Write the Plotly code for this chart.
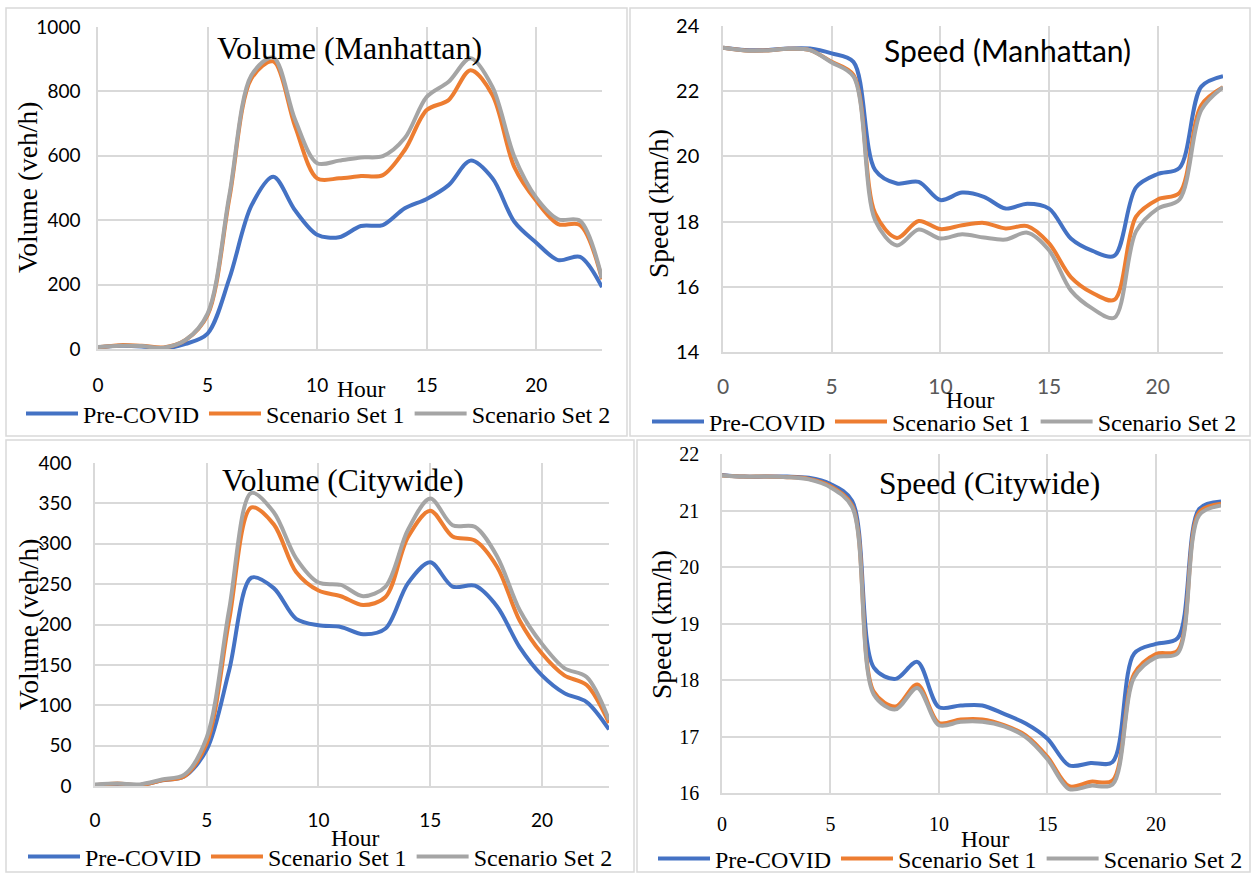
import plotly.graph_objects as go

hours = list(range(24))
x_ticks = [0, 5, 10, 15, 20]
series_names = ["Pre-COVID", "Scenario Set 1", "Scenario Set 2"]
series_colors = ["#4472C4", "#ED7D31", "#A5A5A5"]

# Volume (Manhattan)
vm_pre = [5, 10, 8, 2, 16, 48, 220, 445, 535, 430, 355, 347, 382, 385, 437, 466, 509, 585, 530, 395, 330, 276, 286, 192]
vm_s1 = [5, 12, 10, 5, 28, 105, 470, 840, 893, 690, 530, 530, 537, 540, 618, 742, 773, 866, 789, 565, 460, 388, 385, 217]
vm_s2 = [6, 10, 9, 4, 28, 110, 480, 850, 905, 711, 577, 585, 595, 599, 655, 783, 830, 903, 814, 597, 470, 403, 398, 220]

# Speed (Manhattan)
sm_pre = [23.33, 23.26, 23.26, 23.31, 23.31, 23.16, 22.9, 19.58, 19.17, 19.22, 18.66, 18.89, 18.76, 18.4, 18.55, 18.4, 17.48, 17.1, 16.95, 19.05, 19.46, 19.65, 22.14, 22.46]
sm_s1 = [23.33, 23.25, 23.25, 23.3, 23.26, 22.9, 22.5, 18.25, 17.5, 18.02, 17.77, 17.89, 17.96, 17.79, 17.86, 17.33, 16.3, 15.81, 15.6, 18.15, 18.68, 18.88, 21.57, 22.12]
sm_s2 = [23.33, 23.25, 23.25, 23.3, 23.26, 22.88, 22.45, 18.04, 17.27, 17.76, 17.48, 17.61, 17.51, 17.45, 17.66, 17.12, 15.89, 15.33, 15.05, 17.7, 18.4, 18.68, 21.42, 22.12]

# Volume (Citywide)
vc_pre = [1, 2, 1, 7, 12, 45, 143, 258, 245, 207, 199, 197, 188, 195, 251, 277, 247, 248, 222, 172, 137, 115, 104, 70]
vc_s1 = [1, 3, 1, 7, 12, 53, 205, 345, 324, 265, 242, 235, 224, 234, 308, 341, 309, 304, 271, 205, 164, 137, 125, 78]
vc_s2 = [2, 3, 2, 8, 14, 60, 218, 363, 339, 282, 252, 249, 235, 247, 317, 356, 323, 321, 284, 218, 176, 146, 135, 82]

# Speed (Citywide)
sc_pre = [21.63, 21.6, 21.6, 21.6, 21.58, 21.47, 21.17, 18.22, 18.02, 18.32, 17.52, 17.55, 17.55, 17.4, 17.23, 16.96, 16.49, 16.53, 16.55, 18.47, 18.64, 18.74, 21.03, 21.16]
sc_s1 = [21.62, 21.6, 21.6, 21.59, 21.56, 21.43, 21.09, 17.79, 17.53, 17.92, 17.24, 17.3, 17.3, 17.2, 17.02, 16.64, 16.12, 16.2, 16.22, 18.11, 18.46, 18.52, 20.97, 21.12]
sc_s2 = [21.62, 21.6, 21.6, 21.59, 21.55, 21.41, 21.06, 17.74, 17.48, 17.86, 17.2, 17.26, 17.26, 17.18, 16.99, 16.6, 16.07, 16.13, 16.15, 18.05, 18.4, 18.47, 20.92, 21.09]

W, H = 1252, 874
SERIF = "Liberation Serif, Times New Roman, serif"
SANS = "Lato, Carlito, Calibri, sans-serif"
GRID = "#d9d9d9"

def fx(px):
    return px / W

def fy(py):
    return 1 - py / H

panels = [
    dict(data=[vm_pre, vm_s1, vm_s2], title="Volume (Manhattan)", tfont=SERIF, tsize=32, tpos=(349, 48),
         ytitle="Volume (veh/h)", ytpos=(28, 188), hourpos=(361, 389),
         box=(98, 602, 27, 349), yr=[0, 1000], dtick=200,
         tickfont=SANS, ytsize=19, xtsize=19, xtcolor="#000", ylen=12, xlen=18, leg=(21, 414)),
    dict(data=[sm_pre, sm_s1, sm_s2], title="Speed (Manhattan)", tfont=SANS, tsize=30, tpos=(1007, 50),
         ytitle="Speed (km/h)", ytpos=(658, 204), hourpos=(970, 400),
         box=(723, 1223, 26, 352), yr=[14, 24], dtick=2,
         tickfont=SANS, ytsize=20, xtsize=21, xtcolor="#595959", ylen=18, xlen=15, leg=(647, 422)),
    dict(data=[vc_pre, vc_s1, vc_s2], title="Volume (Citywide)", tfont=SERIF, tsize=31.5, tpos=(343, 481),
         ytitle="Volume (veh/h)", ytpos=(28, 625), hourpos=(355, 838),
         box=(95, 609, 463, 786), yr=[0, 400], dtick=50,
         tickfont=SANS, ytsize=19, xtsize=19, xtcolor="#000", ylen=18, xlen=16, leg=(23, 857)),
    dict(data=[sc_pre, sc_s1, sc_s2], title="Speed (Citywide)", tfont=SERIF, tsize=31.5, tpos=(989, 483),
         ytitle="Speed (km/h)", ytpos=(661, 624), hourpos=(985, 839),
         box=(722, 1221, 454, 793), yr=[16, 22], dtick=1,
         tickfont=SERIF, ytsize=20, xtsize=20, xtcolor="#000", ylen=17, xlen=12, leg=(653, 859)),
]

fig = go.Figure()
layout = dict(width=W, height=H, autosize=False,
              margin=dict(l=0, r=0, t=0, b=0, pad=0, autoexpand=False),
              paper_bgcolor="white", plot_bgcolor="white", showlegend=True)
annotations = []
shapes = []

for i, p in enumerate(panels):
    n = i + 1
    xa = "x" if n == 1 else f"x{n}"
    ya = "y" if n == 1 else f"y{n}"
    lg = "legend" if n == 1 else f"legend{n}"
    for vals, name, col in zip(p["data"], series_names, series_colors):
        fig.add_trace(go.Scatter(x=hours, y=vals, name=name, mode="lines",
                                 line=dict(color=col, width=4, shape="spline", smoothing=0.9),
                                 xaxis=xa, yaxis=ya, legend=lg, hoverinfo="skip"))
    x0, x1, y0, y1 = p["box"]
    layout["xaxis" if n == 1 else f"xaxis{n}"] = dict(
        domain=[fx(x0), fx(x1)], anchor=ya, range=[0, 23], tickvals=x_ticks,
        showgrid=True, gridcolor=GRID, gridwidth=1.5, zeroline=False,
        showline=True, linecolor=GRID, linewidth=1.5, automargin=False,
        ticks="outside", ticklen=p["xlen"], tickcolor="rgba(0,0,0,0)",
        tickfont=dict(family=p["tickfont"], size=p["xtsize"], color=p["xtcolor"]),
        fixedrange=True)
    layout["yaxis" if n == 1 else f"yaxis{n}"] = dict(
        domain=[fy(y1), fy(y0)], anchor=xa, range=p["yr"], dtick=p["dtick"],
        showgrid=True, gridcolor=GRID, gridwidth=1.5, zeroline=False,
        showline=True, linecolor=GRID, linewidth=1.5, automargin=False,
        ticks="outside", ticklen=p["ylen"], tickcolor="rgba(0,0,0,0)",
        tickfont=dict(family=p["tickfont"], size=p["ytsize"], color="#000"),
        fixedrange=True)
    layout[lg] = dict(orientation="h", x=fx(p["leg"][0]), y=fy(p["leg"][1]),
                      xanchor="left", yanchor="middle", itemwidth=52,
                      font=dict(family=SERIF, size=24, color="#000"),
                      bgcolor="rgba(0,0,0,0)", tracegroupgap=0, entrywidthmode="pixels")
    annotations.append(dict(text=p["title"], x=fx(p["tpos"][0]), y=fy(p["tpos"][1]),
                            xref="paper", yref="paper", showarrow=False,
                            xanchor="center", yanchor="middle",
                            font=dict(family=p["tfont"], size=p["tsize"], color="#000")))
    annotations.append(dict(text=p["ytitle"], x=fx(p["ytpos"][0]), y=fy(p["ytpos"][1]),
                            xref="paper", yref="paper", showarrow=False, textangle=-90,
                            xanchor="center", yanchor="middle",
                            font=dict(family=SERIF, size=27.5, color="#000")))
    annotations.append(dict(text="Hour", x=fx(p["hourpos"][0]), y=fy(p["hourpos"][1]),
                            xref="paper", yref="paper", showarrow=False,
                            xanchor="center", yanchor="middle",
                            font=dict(family=SERIF, size=23.5, color="#000")))

frames = [(6, 627, 8, 436), (630, 1250, 8, 436), (6, 634, 440, 872), (637, 1250, 440, 872)]
for (a, b, c, d) in frames:
    shapes.append(dict(type="rect", xref="paper", yref="paper", x0=fx(a), x1=fx(b), y0=fy(d), y1=fy(c),
                       line=dict(color=GRID, width=1.5), layer="below"))

layout["annotations"] = annotations
layout["shapes"] = shapes
fig.update_layout(**layout)
fig.write_html("out.html", config={"displayModeBar": False},
               post_script="document.body.style.margin='0px';document.body.style.overflow='hidden';")
